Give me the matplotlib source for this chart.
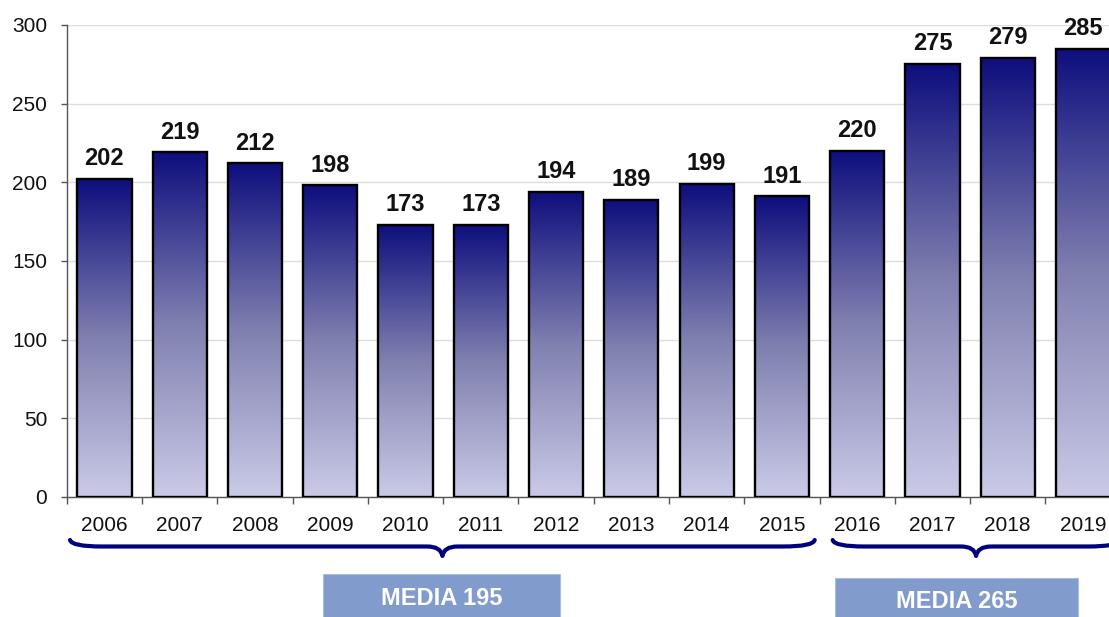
import numpy as np
import matplotlib
matplotlib.use("Agg")
import matplotlib.pyplot as plt
from matplotlib.colors import LinearSegmentedColormap
from matplotlib.path import Path
from matplotlib.patches import PathPatch, Rectangle
import matplotlib.transforms as mtransforms

plt.rcParams['font.family'] = ['Liberation Sans', 'DejaVu Sans']

# ---- data ----
years = ["2006", "2007", "2008", "2009", "2010", "2011", "2012",
         "2013", "2014", "2015", "2016", "2017", "2018", "2019"]
values = [202, 219, 212, 198, 173, 173, 194, 189, 199, 191, 220, 275, 279, 285]
groups = [(0, 9), (10, 13)]          # index ranges of the averaged periods
group_label = "MEDIA"
yticks = [0, 50, 100, 150, 200, 250, 300]

# ---- figure ----
W, H = 1109, 617
fig = plt.figure(figsize=(W / 100, H / 100), dpi=100)
ax = fig.add_axes([66.8 / W, 1 - 497 / H, (1120.6 - 66.8) / W, (497 - 25) / H])

x = np.arange(len(years))
bw = 0.72

cmap = LinearSegmentedColormap.from_list(
    "grad", [(0.0, "#CACAE8"), (0.5, "#8080B0"), (1.0, "#0E0E7E")])
grad = np.linspace(0, 1, 256).reshape(-1, 1)

bars = ax.bar(x, values, width=bw, facecolor="none", edgecolor="black",
              linewidth=1.7, zorder=4)
for b, v in zip(bars, values):
    x0 = b.get_x()
    ax.imshow(grad, extent=[x0, x0 + bw, 0, v], origin="lower", aspect="auto",
              cmap=cmap, zorder=3, interpolation="bilinear")
    ax.annotate(f"{v}", (b.get_x() + bw / 2, v), xytext=(0, 10),
                textcoords="offset points", ha="center", va="baseline",
                fontsize=17, fontweight="bold", color="#111111", zorder=5)
ax.set_xlim(-0.5, len(years) - 0.5)
ax.set_ylim(0, 300)

# grid & axes
ax.set_yticks(yticks)
ax.yaxis.grid(True, color="#DDDDDD", linewidth=1.0, zorder=0)
ax.set_axisbelow(True)
for s in ["top", "right"]:
    ax.spines[s].set_visible(False)
ax.spines["left"].set_color("#555555")
ax.spines["bottom"].set_color("#555555")
ax.spines["left"].set_linewidth(1.0)
ax.spines["bottom"].set_linewidth(1.0)
ax.tick_params(axis="y", direction="out", length=4, width=1, color="#555555",
               labelsize=15, pad=10, labelcolor="#111111")
ax.set_xticks(np.arange(-0.5, len(years), 1.0))
ax.set_xticklabels([])
ax.tick_params(axis="x", which="major", direction="out", length=5, width=1,
               color="#555555")
ax.set_xticks(x, minor=True)
ax.set_xticklabels(years, minor=True)
ax.tick_params(axis="x", which="minor", length=0, labelsize=15, pad=14,
               labelcolor="#111111")

# ---- braces and average boxes ----
trans = mtransforms.blended_transform_factory(ax.transData, fig.transFigure)
brace_color = "#00007F"
y_tip, y_line, y_cusp = 1 - 540 / H, 1 - 546.5 / H, 1 - 556 / H
brace_ext = [(-0.457, 9.436, 4.49), (9.675, 13.49, 11.58)]
box_ext = [(2.898, 6.05, 1 - 574 / H, 1 - 598.5 / H),
           (9.70, 12.94, 1 - 578 / H, 1 - 601 / H)]


def brace(x0, x1, xm):
    de = 0.42
    dm = 0.2
    verts = [(x0, y_tip), (x0 + 0.02, y_line), (x0 + de, y_line),
             (xm - dm, y_line),
             (xm - 0.02, y_line), (xm, y_cusp),
             (xm + 0.02, y_line), (xm + dm, y_line),
             (x1 - de, y_line),
             (x1 - 0.02, y_line), (x1, y_tip)]
    codes = [Path.MOVETO, Path.CURVE3, Path.CURVE3,
             Path.LINETO,
             Path.CURVE3, Path.CURVE3,
             Path.CURVE3, Path.CURVE3,
             Path.LINETO,
             Path.CURVE3, Path.CURVE3]
    return PathPatch(Path(verts, codes), transform=trans, facecolor="none",
                     edgecolor=brace_color, linewidth=3.0, clip_on=False,
                     capstyle="round", joinstyle="round")


for (i0, i1), (bx0, bx1, bxm), (rx0, rx1, rtop, ty) in zip(groups, brace_ext, box_ext):
    fig.add_artist(brace(bx0, bx1, bxm))
    mean = round(np.mean(values[i0:i1 + 1]))
    rect = Rectangle((rx0, -0.05), rx1 - rx0, rtop + 0.05, transform=trans,
                     facecolor="#809BCC", edgecolor="#A9BDE0", linewidth=0.8,
                     clip_on=False)
    fig.add_artist(rect)
    fig.text((rx0 + rx1) / 2, ty, f"{group_label} {mean}", transform=trans,
             ha="center", va="center", fontsize=17, fontweight="bold",
             color="white")

fig.savefig("out.png", dpi=100)
